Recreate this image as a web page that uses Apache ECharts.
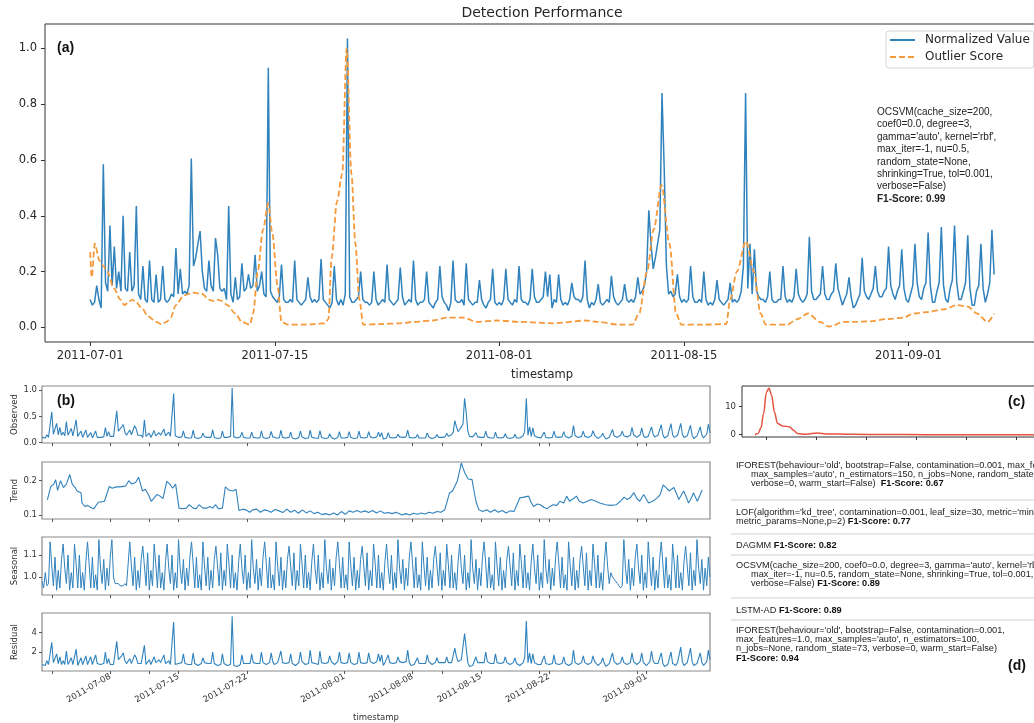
<!DOCTYPE html>
<html><head><meta charset="utf-8">
<script src="https://cdn.jsdelivr.net/npm/echarts@6/dist/echarts.min.js"></script>
<style>html,body{margin:0;padding:0;background:#fff}#c{width:1034px;height:723px}</style>
</head><body><div id="c"></div>
<script>
// ---------- DATA ----------
// Normalized value, one sample every 4 hours starting 2011-07-01 00:00 (6 per day)
const normalizedValue = [
0.10,0.08,0.09,0.15,0.10,0.07,
0.585,0.16,0.13,0.365,0.15,0.29,
0.14,0.20,0.13,0.40,0.14,0.13,
0.27,0.13,0.15,0.435,0.12,0.10,
0.22,0.10,0.09,0.24,0.10,0.09,
0.19,0.09,0.10,0.22,0.10,0.09,
0.10,0.12,0.11,0.285,0.12,0.21,
0.12,0.13,0.12,0.15,0.605,0.22,
0.25,0.30,0.345,0.20,0.14,0.13,
0.24,0.15,0.13,0.32,0.26,0.14,
0.13,0.14,0.10,0.435,0.12,0.09,
0.18,0.10,0.11,0.23,0.13,0.14,
0.19,0.14,0.15,0.26,0.13,0.15,
0.20,0.12,0.11,0.93,0.13,0.11,
0.10,0.09,0.11,0.225,0.10,0.09,
0.09,0.10,0.09,0.24,0.10,0.09,
0.08,0.09,0.10,0.18,0.11,0.09,
0.10,0.09,0.10,0.245,0.10,0.09,
0.08,0.07,0.09,0.22,0.10,0.08,
0.10,0.08,0.12,1.035,0.11,0.09,
0.09,0.10,0.11,0.20,0.10,0.09,
0.09,0.08,0.09,0.20,0.10,0.08,
0.09,0.10,0.09,0.225,0.10,0.09,
0.08,0.09,0.10,0.215,0.11,0.08,
0.09,0.10,0.09,0.24,0.10,0.08,
0.09,0.09,0.10,0.20,0.09,0.08,
0.07,0.09,0.10,0.22,0.11,0.09,
0.08,0.06,0.09,0.24,0.10,0.09,
0.09,0.10,0.08,0.23,0.10,0.09,
0.08,0.09,0.09,0.17,0.10,0.08,
0.07,0.09,0.10,0.21,0.09,0.08,
0.09,0.08,0.10,0.21,0.10,0.09,
0.08,0.10,0.09,0.22,0.10,0.09,
0.09,0.08,0.10,0.21,0.11,0.09,
0.09,0.10,0.11,0.20,0.11,0.19,
0.07,0.10,0.09,0.19,0.10,0.08,
0.09,0.08,0.10,0.16,0.11,0.10,
0.10,0.09,0.11,0.24,0.10,0.07,
0.09,0.08,0.10,0.155,0.09,0.08,
0.09,0.10,0.09,0.185,0.11,0.09,
0.08,0.09,0.10,0.155,0.10,0.09,
0.10,0.09,0.11,0.18,0.12,0.13,
0.15,0.20,0.42,0.30,0.21,0.25,
0.30,0.35,0.84,0.57,0.22,0.12,
0.13,0.11,0.12,0.19,0.11,0.09,
0.10,0.09,0.10,0.22,0.11,0.09,
0.09,0.10,0.09,0.20,0.10,0.08,
0.09,0.08,0.10,0.17,0.10,0.09,
0.08,0.09,0.10,0.16,0.09,0.10,
0.09,0.10,0.13,0.22,0.84,0.14,
0.30,0.12,0.28,0.13,0.11,0.10,
0.10,0.09,0.11,0.20,0.10,0.09,
0.09,0.10,0.10,0.22,0.11,0.09,
0.10,0.09,0.11,0.21,0.12,0.10,
0.09,0.10,0.12,0.325,0.13,0.10,
0.10,0.11,0.12,0.22,0.12,0.10,
0.10,0.12,0.13,0.23,0.14,0.11,
0.08,0.10,0.12,0.18,0.11,0.07,
0.08,0.10,0.12,0.25,0.13,0.11,
0.10,0.12,0.14,0.22,0.13,0.11,
0.11,0.13,0.14,0.29,0.15,0.12,
0.10,0.13,0.15,0.28,0.14,0.10,
0.09,0.12,0.15,0.30,0.16,0.11,
0.10,0.14,0.16,0.34,0.15,0.09,
0.09,0.13,0.16,0.36,0.15,0.10,
0.09,0.14,0.17,0.365,0.16,0.10,
0.10,0.13,0.16,0.33,0.14,0.08,
0.08,0.13,0.15,0.30,0.14,0.09,
0.12,0.16,0.35,0.19
];
// Outlier score: day offset from 2011-07-01 and value
const outlierDays = [0,0.12,0.35,0.7,1.0,1.3,1.8,2.3,2.6,2.9,3.2,3.5,3.9,4.4,5.0,5.4,5.8,6.1,6.5,7.1,7.8,8.5,9.0,9.3,9.6,10.0,10.4,11.0,11.5,12.1,12.35,12.7,13.1,13.5,13.8,14.2,14.5,15.0,16.0,17.0,17.8,18.05,18.3,18.7,19.1,19.44,19.8,20.1,20.4,20.7,22.0,23.5,24.5,26.0,27.0,28.3,29.3,30.8,32.6,35.1,37.6,38.4,40.1,41.1,41.6,42.2,42.7,43.3,43.9,44.4,44.8,46.4,48.2,48.5,49.0,49.7,50.3,50.8,51.2,52.8,53.6,54.4,55.3,56.0,57.1,57.8,59.1,60.4,61.6,62.4,63.4,64.7,65.7,66.5,67.2,68.0,68.5];
const outlierScore = [0.27,0.18,0.30,0.24,0.22,0.20,0.14,0.10,0.08,0.09,0.10,0.09,0.07,0.04,0.02,0.012,0.02,0.035,0.08,0.115,0.125,0.12,0.10,0.095,0.10,0.095,0.08,0.05,0.02,0.01,0.05,0.20,0.35,0.445,0.34,0.15,0.02,0.01,0.01,0.012,0.015,0.03,0.25,0.45,0.55,1.0,0.55,0.30,0.10,0.01,0.012,0.015,0.02,0.025,0.035,0.035,0.02,0.025,0.02,0.015,0.025,0.02,0.01,0.01,0.05,0.20,0.35,0.51,0.30,0.05,0.01,0.01,0.012,0.10,0.20,0.31,0.20,0.05,0.01,0.01,0.03,0.05,0.02,0.003,0.02,0.02,0.022,0.03,0.035,0.05,0.055,0.065,0.08,0.075,0.05,0.02,0.05];
// Trend component: day offset and value
const trendDays = [0.55,0.9,1.2,1.4,1.6,1.9,2.2,2.5,2.85,3.1,3.4,3.6,4.0,4.1,4.4,4.7,5.0,5.3,5.5,5.8,6.1,6.4,6.9,7.2,7.6,8.0,8.6,8.9,9.2,9.6,9.9,10.1,10.3,10.6,10.9,11.2,11.5,11.8,12.1,12.4,12.8,13.1,13.4,13.7,14.05,14.4,14.8,15.1,15.5,15.8,16.1,16.5,16.9,17.2,17.5,17.8,18.1,18.5,18.8,19.2,19.6,19.9,20.2,20.6,20.9,21.3,21.6,22.0,22.4,22.8,23.1,23.5,23.9,24.3,24.7,25.1,25.5,25.9,26.3,26.7,27.1,27.5,27.9,28.3,28.7,29.1,29.5,29.9,30.3,30.7,31.1,31.5,31.9,32.3,32.7,33.1,33.5,33.9,34.3,34.7,35.1,35.5,35.9,36.3,36.9,37.3,37.7,38.1,38.5,38.9,39.3,39.7,40.1,40.5,40.9,41.3,41.8,42.1,42.3,42.6,43.0,43.2,43.4,43.7,44.1,44.3,44.5,44.8,45.2,45.6,46.0,46.4,46.8,47.2,47.6,48.0,48.4,48.7,49.0,49.4,49.9,50.1,50.4,50.8,51.1,51.5,51.8,52.1,52.4,52.8,53.1,53.5,53.8,54.1,54.5,54.8,55.1,55.5,55.9,56.3,56.8,57.2,57.8,58.3,58.9,59.3,59.7,60.0,60.3,60.7,61.0,61.3,61.7,62.0,62.2,62.6,63.1,63.4,63.7,64.0,64.3,64.8,65.1,65.3,65.8,66.1,66.3,66.6,66.8,67.2,67.7];
const trendValues = [0.144,0.183,0.19,0.203,0.172,0.2,0.18,0.19,0.218,0.19,0.18,0.17,0.165,0.135,0.125,0.128,0.122,0.118,0.115,0.138,0.138,0.14,0.183,0.178,0.182,0.182,0.185,0.2,0.19,0.195,0.21,0.19,0.17,0.175,0.16,0.14,0.15,0.16,0.155,0.148,0.198,0.19,0.178,0.19,0.12,0.118,0.12,0.13,0.12,0.118,0.13,0.12,0.12,0.125,0.12,0.13,0.118,0.12,0.182,0.172,0.17,0.175,0.113,0.117,0.115,0.108,0.115,0.117,0.108,0.115,0.113,0.108,0.116,0.112,0.107,0.117,0.108,0.114,0.105,0.115,0.106,0.112,0.104,0.108,0.101,0.104,0.1,0.106,0.1,0.11,0.102,0.112,0.108,0.113,0.108,0.112,0.107,0.113,0.106,0.112,0.105,0.107,0.104,0.108,0.1,0.104,0.1,0.105,0.102,0.106,0.103,0.108,0.105,0.11,0.108,0.115,0.165,0.17,0.175,0.2,0.252,0.235,0.22,0.205,0.203,0.17,0.14,0.115,0.11,0.115,0.108,0.115,0.108,0.113,0.106,0.112,0.11,0.13,0.15,0.152,0.155,0.14,0.125,0.132,0.13,0.122,0.118,0.125,0.13,0.128,0.14,0.135,0.155,0.14,0.148,0.155,0.14,0.135,0.14,0.145,0.14,0.135,0.13,0.128,0.13,0.14,0.152,0.145,0.15,0.165,0.148,0.14,0.16,0.145,0.135,0.14,0.15,0.16,0.188,0.18,0.17,0.18,0.16,0.145,0.17,0.15,0.135,0.15,0.165,0.14,0.173];
// Seasonal component, same 4-hour sampling as normalizedValue
const seasonalValues = [
0.98,0.95,1.02,0.96,0.97,
1.16,1.05,0.96,1.09,0.94,1.03,0.95,1.08, 1.15,1.04,0.97,1.10,0.94,1.02,0.95,
1.15,1.06,0.95,1.10,0.95,1.02,0.94,1.07, 1.16,1.06,0.95,1.09,0.95,1.01,0.94,
1.17,1.04,0.97,1.08,0.94,1.04,0.96,1.09,
1.17,1.00,0.97,0.97,0.97,0.96,0.96,0.96,0.97,0.96,0.96,
1.16,1.05,0.96,1.09,0.94,1.03,0.95,1.08, 1.14,1.05,0.96,1.11,0.94,1.03,0.96,
1.15,1.06,0.95,1.10,0.95,1.02,0.94,1.07, 1.15,1.04,0.97,1.10,0.94,1.02,0.95,
1.17,1.04,0.97,1.08,0.94,1.04,0.96,1.09, 1.16,1.06,0.95,1.09,0.95,1.01,0.94,
1.16,1.05,0.96,1.09,0.94,1.03,0.95,1.08, 1.14,1.05,0.96,1.11,0.94,1.03,0.96,
1.15,1.06,0.95,1.10,0.95,1.02,0.94,1.07, 1.15,1.04,0.97,1.10,0.94,1.02,0.95,
1.17,1.04,0.97,1.08,0.94,1.04,0.96,1.09, 1.16,1.06,0.95,1.09,0.95,1.01,0.94,
1.16,1.05,0.96,1.09,0.94,1.03,0.95,1.08, 1.14,1.05,0.96,1.11,0.94,1.03,0.96,
1.15,1.06,0.95,1.10,0.95,1.02,0.94,1.07, 1.15,1.04,0.97,1.10,0.94,1.02,0.95,
1.17,1.04,0.97,1.08,0.94,1.04,0.96,1.09, 1.16,1.06,0.95,1.09,0.95,1.01,0.94,
1.16,1.05,0.96,1.09,0.94,1.03,0.95,1.08, 1.14,1.05,0.96,1.11,0.94,1.03,0.96,
1.15,1.06,0.95,1.10,0.95,1.02,0.94,1.07, 1.15,1.04,0.97,1.10,0.94,1.02,0.95,
1.17,1.04,0.97,1.08,0.94,1.04,0.96,1.09, 1.16,1.06,0.95,1.09,0.95,1.01,0.94,
1.16,1.05,0.96,1.09,0.94,1.03,0.95,1.08, 1.14,1.05,0.96,1.11,0.94,1.03,0.96,
1.15,1.06,0.95,1.10,0.95,1.02,0.94,1.07, 1.15,1.04,0.97,1.10,0.94,1.02,0.95,
1.17,1.04,0.97,1.08,0.94,1.04,0.96,1.09, 1.16,1.06,0.95,1.09,0.95,1.01,0.94,
1.16,1.05,0.96,1.09,0.94,1.03,0.95,1.08, 1.14,1.05,0.96,1.11,0.94,1.03,0.96,
1.15,1.06,0.95,1.10,0.95,1.02,0.94,1.07, 1.15,1.04,0.97,1.10,0.94,1.02,0.95,
1.17,1.04,0.97,1.08,0.94,1.04,0.96,1.09, 1.16,1.06,0.95,1.09,0.95,1.01,0.94,
1.16,1.05,0.96,1.09,0.94,1.03,0.95,1.08, 1.14,1.05,0.96,1.11,0.94,1.03,0.96,
1.15,1.06,0.95,1.10,0.95,1.02,0.94,1.07,
1.16,1.05,0.97,1.02,1.00,0.99,0.98,0.97,0.96,0.95,0.96,
1.17,1.04,0.97,1.08,0.94,1.04,0.96,1.09, 1.15,1.04,0.97,1.10,0.94,1.02,0.95,
1.16,1.05,0.96,1.09,0.94,1.03,0.95,1.08, 1.16,1.06,0.95,1.09,0.95,1.01,0.94,
1.15,1.06,0.95,1.10,0.95,1.02,0.94,1.07, 1.14,1.05,0.96,1.11,0.94,1.03,0.96,
1.17,1.04,0.97,1.08,0.94,1.04,0.96,1.09,
1.00
];
// Residual component, same 4-hour sampling
const residualValues = [
0.7,0.5,0.6,1.1,0.7,0.5,
3.0,0.9,0.7,1.8,0.8,1.5,
0.7,1.1,0.7,2.1,0.7,0.7,
1.4,0.7,0.8,2.3,0.6,0.5,
1.4,0.7,0.6,1.6,0.7,0.6,
1.5,0.7,0.8,1.7,0.8,0.7,
0.7,0.9,0.8,2.0,0.8,1.3,
0.7,0.8,0.7,0.9,3.1,1.2,
1.4,1.6,1.9,1.1,0.8,0.7,
1.3,0.8,0.7,1.7,1.4,0.8,
0.7,0.8,0.6,2.7,0.7,0.6,
1.2,0.7,0.8,1.5,0.9,0.9,
1.2,0.9,1.0,1.7,0.8,1.0,
1.1,0.7,0.7,5.1,0.7,0.6,
0.8,0.7,0.9,1.8,0.8,0.7,
0.7,0.8,0.7,1.9,0.8,0.7,
0.6,0.7,0.8,1.4,0.9,0.7,
0.8,0.7,0.8,2.0,0.8,0.7,
0.6,0.5,0.7,1.8,0.8,0.6,
0.6,0.5,0.7,5.7,0.6,0.5,
0.5,0.6,0.7,1.7,0.8,0.7,
0.8,0.7,0.8,1.8,0.9,0.7,
0.8,0.9,0.8,2.0,0.9,0.8,
0.7,0.8,0.9,1.9,1.0,0.7,
0.8,0.9,0.8,2.1,0.9,0.7,
0.8,0.8,0.9,1.8,0.8,0.7,
0.6,0.8,0.9,2.0,1.0,0.8,
0.7,0.5,0.8,2.2,0.9,0.8,
0.8,0.9,0.7,2.1,0.9,0.8,
0.8,0.9,0.9,1.6,1.0,0.8,
0.7,0.9,1.0,2.0,0.9,0.8,
0.8,0.7,0.9,1.9,0.9,0.8,
0.7,0.9,0.8,2.0,0.9,0.8,
0.8,0.7,0.9,1.9,1.0,0.8,
0.8,0.9,1.0,1.8,1.0,1.7,
0.6,0.9,0.8,1.7,0.9,0.7,
0.8,0.7,0.9,1.5,1.0,0.9,
0.9,0.8,1.0,2.2,0.9,0.6,
0.8,0.7,0.9,1.4,0.8,0.7,
0.8,0.9,0.8,1.7,1.0,0.8,
0.7,0.8,0.9,1.4,0.9,0.8,
0.9,0.8,0.9,1.5,0.9,0.9,
0.9,1.1,2.4,1.5,1.0,1.1,
1.2,1.4,3.9,2.4,0.9,0.5,
0.7,0.6,0.8,1.5,0.9,0.8,
0.9,0.8,0.9,2.0,1.0,0.8,
0.8,0.9,0.8,1.8,0.9,0.7,
0.8,0.7,0.9,1.5,0.9,0.8,
0.7,0.8,0.9,1.4,0.8,0.8,
0.6,0.7,0.9,1.4,5.2,0.9,
1.9,0.8,1.8,0.9,0.8,0.7,
0.8,0.7,0.8,1.6,0.8,0.7,
0.7,0.8,0.8,1.7,0.8,0.7,
0.7,0.6,0.8,1.5,0.8,0.7,
0.6,0.7,0.8,2.2,0.9,0.7,
0.7,0.8,0.9,1.6,0.9,0.7,
0.7,0.8,0.9,1.6,1.0,0.8,
0.6,0.8,0.9,1.4,0.8,0.5,
0.6,0.8,0.9,1.9,1.0,0.8,
0.7,0.8,0.9,1.5,0.9,0.7,
0.7,0.8,0.9,1.9,1.0,0.8,
0.7,0.9,1.0,1.9,0.9,0.7,
0.6,0.8,1.0,2.1,1.1,0.8,
0.6,0.8,0.9,1.9,0.8,0.5,
0.5,0.7,0.9,2.0,0.8,0.6,
0.6,0.9,1.1,2.5,1.0,0.6,
0.7,0.9,1.1,2.4,1.0,0.6,
0.5,0.8,0.9,1.9,0.9,0.6,
0.8,1.0,2.2,1.2
];
// Panel (c) density curve
const kdeX = [-0.22,-0.16,-0.1,-0.05,0.01,0.06,0.11,0.17,0.23,0.33,0.47,0.55,0.63,0.8,1.03,1.2,1.73,2.4,3.2,4.0,5.4];
const kdeDensity = [0,0.4,2.5,7.3,15.1,16.4,14.0,7.9,4.0,3.1,2.8,1.6,0.4,0.2,0.6,0.3,0.15,0.05,0.03,0.02,0.02];
const kdeTicks = [0,1,2,3,4,5];
// Tick labels
const topTickLabels = ['2011-07-01','2011-07-15','2011-08-01','2011-08-15','2011-09-01'];
const bottomTickLabels = ['2011-07-08','2011-07-15','2011-07-22','2011-08-01','2011-08-08','2011-08-15','2011-08-22','2011-09-01'];
const bottomMinorTicks = ['2011-07-02','2011-07-12','2011-08-11','2011-08-21','2011-08-31'];
const legendNames = ['Normalized Value','Outlier Score'];
const panelNames = ['Observed','Trend','Seasonal','Residual'];
// Model texts
const ocsvmAnnotation = ["OCSVM(cache_size=200,","coef0=0.0, degree=3,","gamma='auto', kernel='rbf',","max_iter=-1, nu=0.5,","random_state=None,","shrinking=True, tol=0.001,","verbose=False)"];
const ocsvmF1 = '0.99';
const modelLines = [
  ["IFOREST(behaviour='old', bootstrap=False, contamination=0.001, max_features=1.0,","  max_samples='auto', n_estimators=150, n_jobs=None, random_state=None,","  verbose=0, warm_start=False)  "],
  ["LOF(algorithm='kd_tree', contamination=0.001, leaf_size=30, metric='minkowski',","metric_params=None,p=2) "],
  ["DAGMM "],
  ["OCSVM(cache_size=200, coef0=0.0, degree=3, gamma='auto', kernel='rbf',","  max_iter=-1, nu=0.5, random_state=None, shrinking=True, tol=0.001,","  verbose=False) "],
  ["LSTM-AD "],
  ["IFOREST(behaviour='old', bootstrap=False, contamination=0.001,","max_features=1.0, max_samples='auto', n_estimators=100,","n_jobs=None, random_state=73, verbose=0, warm_start=False)",""]
];
const modelF1 = ['0.67','0.77','0.82','0.89','0.89','0.94'];

// ---------- BUILD ----------
const START = Date.UTC(2011, 6, 1);
const dayOf = s => (Date.parse(s + 'T00:00:00Z') - START) / 86400000;
const STEP = 1 / 6;
const topTickDays = topTickLabels.map(dayOf);
const bottomTickDays = bottomTickLabels.map(dayOf);
const bottomAllTicks = bottomTickDays.concat(bottomMinorTicks.map(dayOf));
const fmtFrom = (days, labels) => v => { const i = days.findIndex(d => Math.abs(d - v) < 1e-6); return i >= 0 ? labels[i] : ''; };

const BLUE = '#3082bd', ORANGE = '#f5993a', RED = '#e5533f';
const DV = 'DejaVu Sans', LS = 'Liberation Sans';
const tick = '#333';

const nvData = normalizedValue.map((v, i) => [i * STEP, v]);
const seasData = seasonalValues.map((v, i) => [i * STEP, v]);
const resData = residualValues.map((v, i) => [i * STEP, v]);
const trendData = trendDays.map((d, i) => [d, trendValues[i]]);
const osData = outlierDays.map((d, i) => [d, outlierScore[i]]);
const kdeData = kdeX.map((x, i) => [x, kdeDensity[i]]);

const gridBase = {show: true, backgroundColor: 'transparent', outerBoundsMode: 'none', containLabel: false};
const grids = [
  Object.assign({left: 45, top: 24, width: 994, height: 318, borderColor: '#333', borderWidth: 1}, gridBase),
  Object.assign({left: 42, top: 386, width: 668, height: 57, borderColor: '#8a8a8a', borderWidth: 1.2}, gridBase),
  Object.assign({left: 42, top: 462, width: 668, height: 57, borderColor: '#8a8a8a', borderWidth: 1.2}, gridBase),
  Object.assign({left: 42, top: 537, width: 668, height: 58, borderColor: '#8a8a8a', borderWidth: 1.2}, gridBase),
  Object.assign({left: 42, top: 613, width: 668, height: 58, borderColor: '#8a8a8a', borderWidth: 1.2}, gridBase),
  Object.assign({left: 742, top: 386, width: 298, height: 51, borderColor: '#333', borderWidth: 1}, gridBase)
];

const noLine = {show: false, onZero: false};
const smallLabel = {fontFamily: DV, fontSize: 8.5, color: '#333'};
function bottomX(idx, showLabels) {
  const ax = {
    gridIndex: idx, type: 'value', min: 0, max: 68.5, position: 'bottom',
    axisLine: noLine, splitLine: {show: false},
    axisTick: {show: true, length: 3, lineStyle: {color: '#555'}, customValues: bottomAllTicks},
    axisLabel: showLabels ? Object.assign({customValues: bottomTickDays, formatter: fmtFrom(bottomTickDays, bottomTickLabels), rotate: 30, margin: 5}, smallLabel) : {show: false}
  };
  if (showLabels) {
    ax.name = 'timestamp'; ax.nameLocation = 'middle'; ax.nameGap = 42;
    ax.nameTextStyle = {fontFamily: DV, fontSize: 8.5, color: '#333'};
  }
  return ax;
}
function bottomY(idx, min, max, ticks, fmt, name) {
  return {
    gridIndex: idx, type: 'value', min: min, max: max, position: 'left',
    axisLine: noLine, splitLine: {show: false},
    axisTick: {show: true, length: 3, lineStyle: {color: '#555'}, customValues: ticks},
    axisLabel: Object.assign({customValues: ticks, formatter: fmt, margin: 5}, smallLabel),
    name: name, nameLocation: 'middle', nameRotate: 90, nameGap: 23, nameMoveOverlap: false,
    nameTextStyle: {fontFamily: DV, fontSize: 8.5, color: '#333'}
  };
}

const xAxes = [
  {gridIndex: 0, type: 'value', min: -3.42, max: 71.9, position: 'bottom',
   axisLine: noLine, splitLine: {show: false},
   axisTick: {show: true, length: 4, lineStyle: {color: tick}, customValues: topTickDays},
   axisLabel: {customValues: topTickDays, formatter: fmtFrom(topTickDays, topTickLabels), fontFamily: DV, fontSize: 11.5, color: '#262626', margin: 8},
   name: 'timestamp', nameLocation: 'middle', nameGap: 27, nameTextStyle: {fontFamily: DV, fontSize: 11.5, color: '#262626'}},
  bottomX(1, false), bottomX(2, false), bottomX(3, false), bottomX(4, true),
  {gridIndex: 5, type: 'value', min: -0.48, max: 5.48, position: 'bottom',
   axisLine: noLine, splitLine: {show: false},
   axisTick: {show: true, length: 3, lineStyle: {color: tick}, customValues: kdeTicks},
   axisLabel: {show: false}}
];
const topYTicks = [0, 0.2, 0.4, 0.6, 0.8, 1.0];
const yAxes = [
  {gridIndex: 0, type: 'value', min: -0.052, max: 1.087, position: 'left',
   axisLine: noLine, splitLine: {show: false},
   axisTick: {show: true, length: 4, lineStyle: {color: tick}, customValues: topYTicks},
   axisLabel: {customValues: topYTicks, formatter: v => v.toFixed(1), fontFamily: DV, fontSize: 11.5, color: '#262626', margin: 8}},
  bottomY(1, -0.006, 1.075, [0, 0.5, 1.0], v => v.toFixed(1), panelNames[0]),
  bottomY(2, 0.0883, 0.2545, [0.1, 0.2], v => v.toFixed(1), panelNames[1]),
  bottomY(3, 0.918, 1.182, [1.0, 1.1], v => v.toFixed(1), panelNames[2]),
  bottomY(4, 0.03, 6.04, [2, 4], v => String(Math.round(v)), panelNames[3]),
  {gridIndex: 5, type: 'value', min: -0.8, max: 17.2, position: 'left',
   axisLine: noLine, splitLine: {show: false},
   axisTick: {show: true, length: 3, lineStyle: {color: tick}, customValues: [0, 10]},
   axisLabel: Object.assign({customValues: [0, 10], formatter: v => String(v), margin: 6}, smallLabel)}
];

const lineBase = {type: 'line', symbol: 'none', showSymbol: false, silent: true, animation: false};
const series = [
  Object.assign({name: legendNames[0], xAxisIndex: 0, yAxisIndex: 0, data: nvData, lineStyle: {color: BLUE, width: 1.5}, itemStyle: {color: BLUE}, z: 2}, lineBase),
  Object.assign({name: legendNames[1], xAxisIndex: 0, yAxisIndex: 0, data: osData, smooth: 0.3, smoothMonotone: 'x', lineStyle: {color: ORANGE, width: 1.8, type: [6, 3]}, itemStyle: {color: ORANGE}, z: 3}, lineBase),
  Object.assign({xAxisIndex: 1, yAxisIndex: 1, data: nvData, lineStyle: {color: BLUE, width: 1.1}}, lineBase),
  Object.assign({xAxisIndex: 2, yAxisIndex: 2, data: trendData, lineStyle: {color: BLUE, width: 1.1}}, lineBase),
  Object.assign({xAxisIndex: 3, yAxisIndex: 3, data: seasData, lineStyle: {color: BLUE, width: 1.0}}, lineBase),
  Object.assign({xAxisIndex: 4, yAxisIndex: 4, data: resData, lineStyle: {color: BLUE, width: 1.1}}, lineBase),
  Object.assign({xAxisIndex: 5, yAxisIndex: 5, data: kdeData, smooth: 0.35, smoothMonotone: 'x', lineStyle: {color: RED, width: 1.5}}, lineBase)
];

// ---------- TEXT GRAPHICS ----------
const g = [];
function txt(x, y, text, font, opts) {
  g.push({type: 'text', x: x, y: y, silent: true, z: 100,
    style: Object.assign({text: text, font: font, fill: '#222', align: 'left', verticalAlign: 'middle', textAlign: 'left', textVerticalAlign: 'middle'}, opts || {})});
}
txt(542, 13, 'Detection Performance', '14px "DejaVu Sans"', {fill: '#262626', align: 'center', textAlign: 'center'});
txt(57, 48, '(a)', 'bold 14px "Liberation Sans"', {fill: '#111'});
txt(57, 401, '(b)', 'bold 14px "Liberation Sans"', {fill: '#111'});
txt(1008, 402, '(c)', 'bold 14px "Liberation Sans"', {fill: '#111'});
txt(1008, 666, '(d)', 'bold 14px "Liberation Sans"', {fill: '#111'});

ocsvmAnnotation.forEach((line, i) => txt(877, 112 + i * 12.45, line, '10px "Liberation Sans"'));
txt(877, 112 + ocsvmAnnotation.length * 12.45, 'F1-Score: ' + ocsvmF1, 'bold 10px "Liberation Sans"');

const blockY = [465, 512, 545, 565, 610, 630];
const sepY = [500, 534, 555, 598, 620];
const lh = 9.35;
const richStyles = {
  n: {fontFamily: LS, fontSize: 9.2, fill: '#222'},
  b: {fontFamily: LS, fontSize: 9.2, fontWeight: 'bold', fill: '#111'}
};
modelLines.forEach((lines, bi) => {
  lines.forEach((line, li) => {
    const indent = /^\s/.test(line) ? 15 : 0;
    const body = line.replace(/^\s+/, '');
    const last = li === lines.length - 1;
    const t = (body ? '{n|' + body + '}' : '') + (last ? '{b|F1-Score: ' + modelF1[bi] + '}' : '');
    g.push({type: 'text', x: 736 + indent, y: blockY[bi] + li * lh, silent: true, z: 100,
      style: {text: t, rich: richStyles, align: 'left', verticalAlign: 'middle', textAlign: 'left', textVerticalAlign: 'middle'}});
  });
});
sepY.forEach(y => g.push({type: 'line', silent: true, z: 90, shape: {x1: 731, y1: y, x2: 1034, y2: y}, style: {stroke: '#cfcfcf', lineWidth: 1}}));

const chart = echarts.init(document.getElementById('c'), null, {renderer: 'canvas'});
chart.setOption({
  animation: false,
  backgroundColor: '#fff',
  grid: grids,
  xAxis: xAxes,
  yAxis: yAxes,
  legend: {
    data: legendNames, orient: 'vertical', left: 886, top: 31,
    itemWidth: 25, itemHeight: 13, itemGap: 5, padding: [3, 4, 5, 3],
    borderColor: '#d3d3d3', borderWidth: 1, borderRadius: 3, backgroundColor: '#fff',
    selectedMode: false,
    itemStyle: {opacity: 0},
    textStyle: {fontFamily: DV, fontSize: 12, color: '#262626', padding: [0, 0, 0, 5]}
  },
  tooltip: {show: false},
  series: series,
  graphic: {elements: g}
});
</script>
</body></html>
